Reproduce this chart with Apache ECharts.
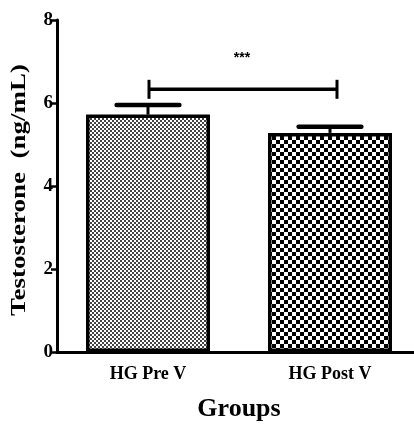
<!DOCTYPE html>
<html><head><meta charset="utf-8">
<script src="https://cdn.jsdelivr.net/npm/echarts@6/dist/echarts.min.js"></script>
<style>html,body{margin:0;padding:0;background:#fff}#c{width:414px;height:432px}</style>
</head><body><div id="c"></div>
<script>
var categories = ['HG Pre V', 'HG Post V'];
var means = [5.72, 5.28];
var errors = [0.23, 0.15];
var yTicks = [0, 2, 4, 6, 8];
var sigText = '***';
var sigY = 6.33;
var yTitle = 'Testosterone  (ng/mL)';
var xTitle = 'Groups';

function makePattern(tile, cells, color) {
  var c = document.createElement('canvas');
  c.width = tile; c.height = tile;
  var g = c.getContext('2d');
  g.fillStyle = '#fff'; g.fillRect(0, 0, tile, tile);
  g.fillStyle = color;
  cells.forEach(function (r) { g.fillRect(r[0], r[1], r[2], r[3]); });
  return { image: c, repeat: 'repeat' };
}
var finePat = makePattern(4, [[0, 0, 2, 2], [2, 2, 2, 2]], '#444');
var checkPat = makePattern(8, [[0, 0, 4, 4], [4, 4, 4, 4]], '#000');
var pats = [finePat, checkPat];

var serif = 'Liberation Serif';
var chart = echarts.init(document.getElementById('c'), null, { renderer: 'canvas' });
chart.setOption({
  animation: false,
  backgroundColor: '#fff',
  grid: { left: 57, right: -7, top: 20, height: 332, outerBoundsMode: 'none', containLabel: false },
  xAxis: {
    type: 'category', data: categories,
    axisLine: { lineStyle: { color: '#000', width: 3 } },
    axisTick: { alignWithLabel: true, length: 8, lineStyle: { color: '#000', width: 2.5 } },
    axisLabel: { fontFamily: serif, fontWeight: 'bold', fontSize: 18, color: '#000', margin: 13 },
    name: xTitle, nameLocation: 'middle', nameGap: 44,
    nameTextStyle: { fontFamily: serif, fontWeight: 'bold', fontSize: 26, color: '#000' }
  },
  yAxis: {
    type: 'value', min: yTicks[0], max: yTicks[yTicks.length - 1], interval: 2,
    splitLine: { show: false },
    axisLine: { show: true, lineStyle: { color: '#000', width: 3 } },
    axisTick: { show: true, length: 6, lineStyle: { color: '#000', width: 2.5 } },
    axisLabel: { fontFamily: serif, fontWeight: 'bold', fontSize: 19, color: '#000', margin: 4 }
  },
  graphic: [{
    type: 'text', x: 20, y: 190, rotation: Math.PI / 2, scaleX: 1.35,
    style: { text: yTitle, font: 'bold 20px "Liberation Serif"', fill: '#000', align: 'center', verticalAlign: 'middle' }
  }],
  series: [{
    type: 'bar', barWidth: 124,
    data: means.map(function (v, i) {
      return { value: v, itemStyle: { color: pats[i], borderColor: '#000', borderWidth: 3.5 } };
    }),
    z: 2
  }, {
    type: 'custom',
    data: means.map(function (v, i) { return [i, v, errors[i]]; }),
    renderItem: function (params, api) {
      var x = api.value(0), m = api.value(1), e = api.value(2);
      var base = api.coord([x, m]);
      var top = api.coord([x, m + e]);
      var cw = api.size([1, 0])[0] * 0.345;
      return { type: 'group', children: [
        { type: 'line', shape: { x1: base[0], y1: base[1], x2: top[0], y2: top[1] }, style: { stroke: '#000', lineWidth: 3 } },
        { type: 'line', shape: { x1: top[0] - cw / 2, y1: top[1], x2: top[0] + cw / 2, y2: top[1] }, style: { stroke: '#000', lineWidth: 4.5, lineCap: 'round' } }
      ] };
    },
    z: 5
  }, {
    type: 'custom',
    data: [[0, 1, sigY]],
    renderItem: function (params, api) {
      var y = api.value(2);
      var p0 = api.coord([api.value(0), y]);
      var p1 = api.coord([api.value(1), y]);
      p0[0] += 1; p1[0] += 7;
      var h = 9.5;
      return { type: 'group', children: [
        { type: 'line', shape: { x1: p0[0], y1: p0[1], x2: p1[0], y2: p1[1] }, style: { stroke: '#000', lineWidth: 3.5 } },
        { type: 'line', shape: { x1: p0[0], y1: p0[1] - h, x2: p0[0], y2: p0[1] + h }, style: { stroke: '#000', lineWidth: 3 } },
        { type: 'line', shape: { x1: p1[0], y1: p1[1] - h, x2: p1[0], y2: p1[1] + h }, style: { stroke: '#000', lineWidth: 3 } },
        { type: 'text', x: (p0[0] + p1[0]) / 2 - 1, y: p0[1] - 31,
          style: { text: sigText, font: 'bold 14px "Liberation Sans"', fill: '#000', align: 'center', verticalAlign: 'middle' } }
      ] };
    },
    z: 5
  }]
});
</script></body></html>
